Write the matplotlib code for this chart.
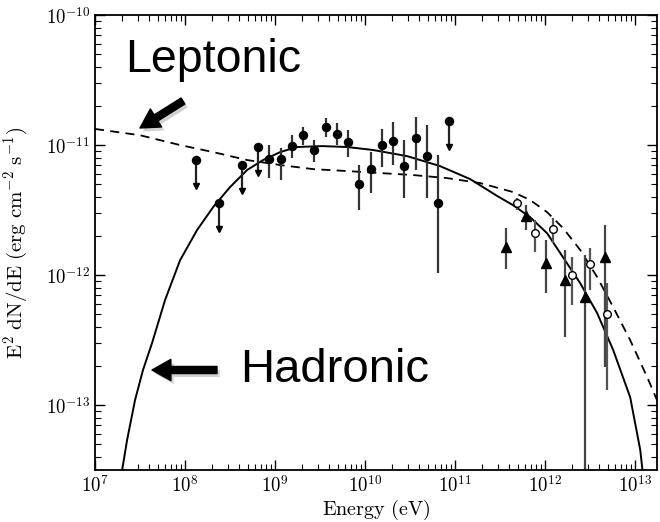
import numpy as np
import matplotlib.pyplot as plt
import matplotlib.patheffects as pe
from matplotlib.ticker import FuncFormatter, NullFormatter, LogLocator


# model curves
hadronic_E = [1.9e7, 2.0e7, 2.27e7, 2.78e7, 3.41e7, 4.3e7, 6.0e7, 8.8e7, 1.36e8, 2.05e8,
              3.16e8, 4.89e8, 7.36e8, 1.14e9, 1.75e9, 3.33e9, 6.3e9, 1.23e10, 2.93e10,
              6.8e10, 1.47e11, 2.93e11, 4.4e11, 6.8e11, 1.05e12, 1.58e12, 2.45e12,
              3.78e12, 5.7e12, 8.8e12, 1.14e13, 1.25e13]
hadronic_F = [2.3e-14, 3.16e-14, 5.38e-14, 1.09e-13, 1.86e-13, 3.0e-13, 6.43e-13, 1.30e-12,
              2.22e-12, 3.33e-12, 4.75e-12, 6.43e-12, 7.67e-12, 8.83e-12, 9.66e-12,
              9.82e-12, 9.66e-12, 9.16e-12, 8.22e-12, 6.89e-12, 5.47e-12, 4.06e-12,
              3.45e-12, 2.79e-12, 2.10e-12, 1.37e-12, 8.67e-13, 5.1e-13, 2.65e-13,
              1.15e-13, 4.5e-14, 2.5e-14]

leptonic_E = [1.0e7, 3.16e7, 8.8e7, 2.05e8, 4.89e8, 1.14e9, 2.64e9, 6.3e9, 1.47e10,
              3.41e10, 8.15e10, 1.9e11, 4.4e11, 6.8e11, 1.05e12, 1.58e12, 2.45e12,
              3.78e12, 5.7e12, 8.8e12, 1.36e13, 1.75e13, 2.0e13]
leptonic_F = [1.33e-11, 1.19e-11, 1.0e-11, 8.83e-12, 7.67e-12, 7.02e-12, 6.53e-12,
              6.31e-12, 6.09e-12, 5.88e-12, 5.57e-12, 5.1e-12, 4.35e-12, 3.78e-12,
              3.05e-12, 2.30e-12, 1.56e-12, 9.66e-13, 5.67e-13, 3.16e-13, 1.64e-13,
              1.09e-13, 9.0e-14]

# Fermi-LAT points
fermi_E = [1.17e9, 1.55e9, 2.05e9, 2.7e9, 3.7e9, 4.9e9, 6.5e9, 8.6e9, 1.17e10, 1.55e10,
           2.05e10, 2.7e10, 3.7e10, 4.9e10, 6.5e10, 8.6e8]
fermi_F = [7.80e-12, 9.82e-12, 1.19e-11, 9.16e-12, 1.37e-11, 1.22e-11, 1.05e-11, 5.01e-12,
           6.54e-12, 1.0e-11, 1.07e-11, 6.89e-12, 1.13e-11, 8.23e-12, 3.58e-12, 7.80e-12]
fermi_hi = [9.5e-12, 1.19e-11, 1.37e-11, 1.09e-11, 1.61e-11, 1.48e-11, 1.30e-11, 7.02e-12,
            8.84e-12, 1.33e-11, 1.50e-11, 1.09e-11, 1.64e-11, 1.43e-11, 8.38e-12, 1.0e-11]
fermi_lo = [5.38e-12, 7.94e-12, 1.0e-11, 7.4e-12, 1.15e-11, 1.0e-11, 8.09e-12, 3.16e-12,
            4.27e-12, 6.78e-12, 7.02e-12, 3.91e-12, 6.43e-12, 3.91e-12, 1.04e-12, 5.57e-12]

# Fermi-LAT upper limits
ul_E = [1.32e8, 2.4e8, 4.3e8, 6.5e8, 8.6e10]
ul_F = [7.67e-12, 3.58e-12, 7.02e-12, 9.66e-12, 1.53e-11]

# TeV points (filled triangles)
tri_E = [3.69e11, 6.15e11, 1.03e12, 1.67e12, 2.78e12, 4.64e12]
tri_F = [1.64e-12, 2.84e-12, 1.24e-12, 9.16e-13, 6.78e-13, 1.38e-12]
tri_hi = [2.30e-12, 3.45e-12, 1.86e-12, 1.56e-12, 1.43e-12, 2.42e-12]
tri_lo = [1.11e-12, 2.22e-12, 7.28e-13, 3.33e-13, 1.0e-14, 1.96e-13]

# TeV points (open circles)
oc_E = [4.89e11, 7.74e11, 1.23e12, 2.0e12, 3.16e12, 4.89e12]
oc_F = [3.58e-12, 2.10e-12, 2.26e-12, 1.0e-12, 1.22e-12, 5.01e-13]
oc_hi = [3.91e-12, 2.65e-12, 2.74e-12, 1.38e-12, 1.61e-12, 8.67e-13]
oc_lo = [3.16e-12, 1.50e-12, 1.76e-12, 5.88e-13, 7.67e-13, 1.30e-13]


def yerr(F, lo, hi):
    F, lo, hi = np.array(F), np.array(lo), np.array(hi)
    return [F - lo, hi - F]


plt.rcParams['mathtext.fontset'] = 'cm'
fig = plt.figure(figsize=(6.6, 5.22), dpi=100)
ax = fig.add_axes([0.144, 0.0996, 0.8515, 0.8715])

ax.plot(hadronic_E, hadronic_F, color='black', lw=1.4)
ax.plot(leptonic_E, leptonic_F, color='black', lw=1.3, linestyle=(0, (5, 3.5)))

ax.errorbar(fermi_E, fermi_F, yerr=yerr(fermi_F, fermi_lo, fermi_hi), fmt='o',
            color='black', ecolor='#333333', elinewidth=1.6, ms=5.8, capsize=0)

ul_F = np.array(ul_F)
ax.errorbar(ul_E, ul_F, yerr=[ul_F*0.38, ul_F*0], fmt='o', color='black',
            ecolor='#222222', elinewidth=1.6, ms=5.8, capsize=0)
ax.plot(ul_E, ul_F*0.63, 'v', color='black', ms=4.5)

ax.errorbar(tri_E, tri_F, yerr=yerr(tri_F, tri_lo, tri_hi), fmt='^',
            color='black', ecolor='#444444', elinewidth=1.6, ms=6.5, capsize=0)
ax.errorbar(oc_E, oc_F, yerr=yerr(oc_F, oc_lo, oc_hi), fmt='o', mfc='white',
            mec='black', mew=1.0, ecolor='#555555', elinewidth=1.6, ms=5.5, capsize=0)

ax.set_xscale('log')
ax.set_yscale('log')
ax.set_xlim(1e7, 1.75e13)
ax.set_ylim(10**-13.5, 1e-10)

sci = FuncFormatter(lambda v, pos: r'$10^{%d}$' % round(np.log10(v)))
ax.xaxis.set_major_locator(LogLocator(base=10, numticks=20))
ax.yaxis.set_major_locator(LogLocator(base=10, numticks=20))
ax.xaxis.set_major_formatter(sci)
ax.yaxis.set_major_formatter(sci)
ax.xaxis.set_minor_formatter(NullFormatter())
ax.yaxis.set_minor_formatter(NullFormatter())
ax.tick_params(which='both', direction='in', top=True, right=True, labelsize=13.5)
ax.tick_params(which='major', length=7, width=1)
ax.tick_params(which='minor', length=4, width=0.8)
for s in ax.spines.values():
    s.set_linewidth(1.3)

ax.set_xlabel(r'$\mathrm{Energy\ (eV)}$', fontsize=14.5)
ax.set_ylabel(r'$\mathrm{E^2\ dN/dE\ (erg\ cm^{-2}\ s^{-1})}$', fontsize=15)
ax.xaxis.set_label_coords(0.5, -0.062)
ax.yaxis.set_label_coords(-0.115, 0.5)

# annotations
fig.text(125/660, 1 - 72/522, 'Leptonic', fontsize=33.5, family='Liberation Sans',
         va='baseline')
fig.text(240/660, 1 - 382/522, 'Hadronic', fontsize=34, family='Liberation Sans',
         va='baseline')

shadow = [pe.SimplePatchShadow(offset=(2, -2.5), shadow_rgbFace='#999999', alpha=0.45),
          pe.Normal()]
arrow = dict(arrowstyle='simple,head_length=0.8,head_width=0.9,tail_width=0.3',
             mutation_scale=17, color='black', shrinkA=0, shrinkB=0, path_effects=shadow)
ax.annotate('', xy=(140, 522 - 128), xytext=(183, 522 - 101),
            xycoords='figure pixels', textcoords='figure pixels', arrowprops=arrow)
ax.annotate('', xy=(152, 522 - 370), xytext=(217, 522 - 370),
            xycoords='figure pixels', textcoords='figure pixels', arrowprops=arrow)

plt.savefig('out.png', dpi=100)
